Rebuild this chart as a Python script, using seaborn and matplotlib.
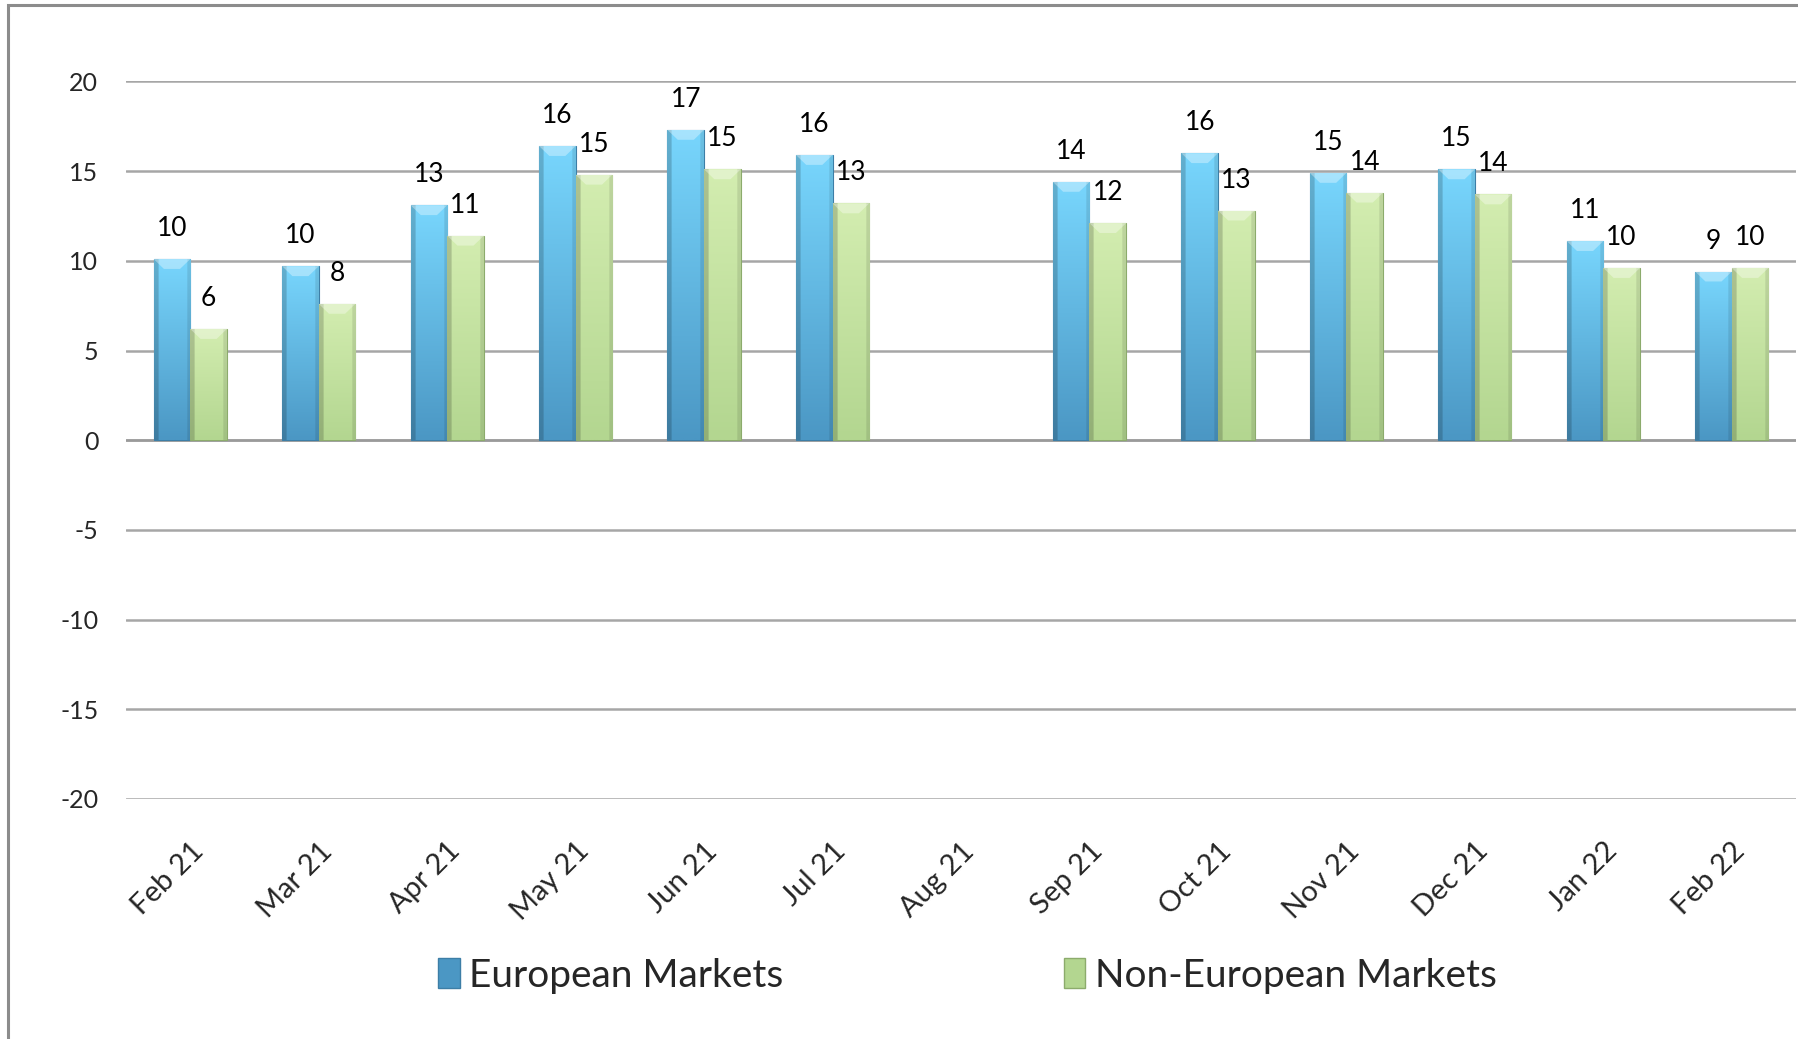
import numpy as np
import pandas as pd
import matplotlib.pyplot as plt
import seaborn as sns
from matplotlib.patches import Patch, Polygon, Rectangle
from matplotlib.colors import to_rgb

# data
months = ['Feb 21', 'Mar 21', 'Apr 21', 'May 21', 'Jun 21', 'Jul 21', 'Aug 21',
          'Sep 21', 'Oct 21', 'Nov 21', 'Dec 21', 'Jan 22', 'Feb 22']
european = [10.1, 9.7, 13.1, 16.4, 17.3, 15.9, np.nan, 14.4, 16.0, 14.9, 15.1, 11.1, 9.4]
non_european = [6.2, 7.6, 11.4, 14.8, 15.1, 13.2, np.nan, 12.1, 12.8, 13.8, 13.7, 9.6, 9.6]
series = ['European Markets', 'Non-European Markets']
yticks = [-20, -15, -10, -5, 0, 5, 10, 15, 20]

# colours (top, bottom, edge)
shades = {
    'European Markets': ('#78d6fd', '#4b97c4', '#3d7ea6'),
    'Non-European Markets': ('#d3edb0', '#b3d690', '#8cab6c'),
}

df = pd.DataFrame({
    'month': months * 2,
    'value': european + non_european,
    'series': [series[0]] * len(months) + [series[1]] * len(months),
})

sns.set_theme(style='white')
plt.rcParams['font.family'] = ['Lato', 'DejaVu Sans']
plt.rcParams['axes.unicode_minus'] = False

fig = plt.figure(figsize=(17.98, 10.39), dpi=100)
ax = fig.add_axes([0.0701, 0.231, 0.9288, 0.6906])

sns.barplot(data=df, x='month', y='value', hue='series', order=months,
            hue_order=series, width=0.57, legend=False, ax=ax,
            palette=[shades[s][1] for s in series], saturation=1,
            errorbar=None, zorder=3)

for cont, name in zip(ax.containers, series):
    top_c, bot_c, edge_c = shades[name]
    top_c, bot_c = np.array(to_rgb(top_c)), np.array(to_rgb(bot_c))
    for bar in cont:
        h = bar.get_height()
        if not np.isfinite(h) or h == 0:
            continue
        x0, w = bar.get_x(), bar.get_width()
        # vertical gradient times horizontal bevel shading
        t = np.linspace(0, 1, 100)[:, None, None]
        col = top_c * (1 - t) + bot_c * t
        sx = np.linspace(0, 1, 40)
        shade = np.where(sx < 0.12, 0.82, np.where(sx > 0.9, 0.9, 1.0))
        img = np.clip(col * shade[None, :, None], 0, 1)
        im = ax.imshow(img, extent=[x0, x0 + w, 0, h], aspect='auto',
                       zorder=3.5, interpolation='bilinear')
        im.set_clip_path(bar)
        bar.set_edgecolor(edge_c)
        bar.set_linewidth(0.8)
        # light bevel at the top of the bar
        d = 0.55
        bevel = Polygon([(x0, h), (x0 + w, h), (x0 + w * 0.72, h - d),
                         (x0 + w * 0.28, h - d)], closed=True,
                        facecolor='white', alpha=0.35, edgecolor='none', zorder=4)
        ax.add_patch(bevel)
        ax.annotate(f'{h:.0f}', (x0 + w / 2, h), xytext=(0, 22),
                    textcoords='offset points', ha='center', va='center',
                    fontsize=19, color='black', zorder=5)

ax.set_xlim(-0.5, len(months) - 0.5)
ax.set_ylim(-20, 20)
ax.set_yticks(yticks)
ax.set_yticklabels([str(v) for v in yticks])
ax.yaxis.grid(True, color='#a6a6a6', linewidth=1.8, zorder=0)
ax.set_axisbelow(True)
for s in ax.spines.values():
    s.set_visible(False)
ax.axhline(0, color='#9a9a9a', linewidth=1.8, zorder=2)

ax.set_xlabel('')
ax.set_ylabel('')
ax.tick_params(axis='y', length=0, pad=20, labelsize=18)
ax.tick_params(axis='x', length=0, pad=28, labelsize=21)
plt.setp(ax.get_xticklabels(), rotation=45, ha='right', rotation_mode='anchor')

handles = [Patch(facecolor=shades[s][1], edgecolor=shades[s][2]) for s in series]
fig.legend(handles, series, loc='center', bbox_to_anchor=(0.538, 0.061), ncol=2,
           frameon=False, fontsize=28, handlelength=0.55, handleheight=0.8,
           handletextpad=0.25, columnspacing=7.2)

# outer chart border (cut off at right and bottom)
fig.patches.append(Rectangle((0.0042, -0.05), 1.2, 1.0455, transform=fig.transFigure,
                             fill=False, edgecolor='#8c8c8c', linewidth=2.2))

fig.savefig('out.png', dpi=100)
